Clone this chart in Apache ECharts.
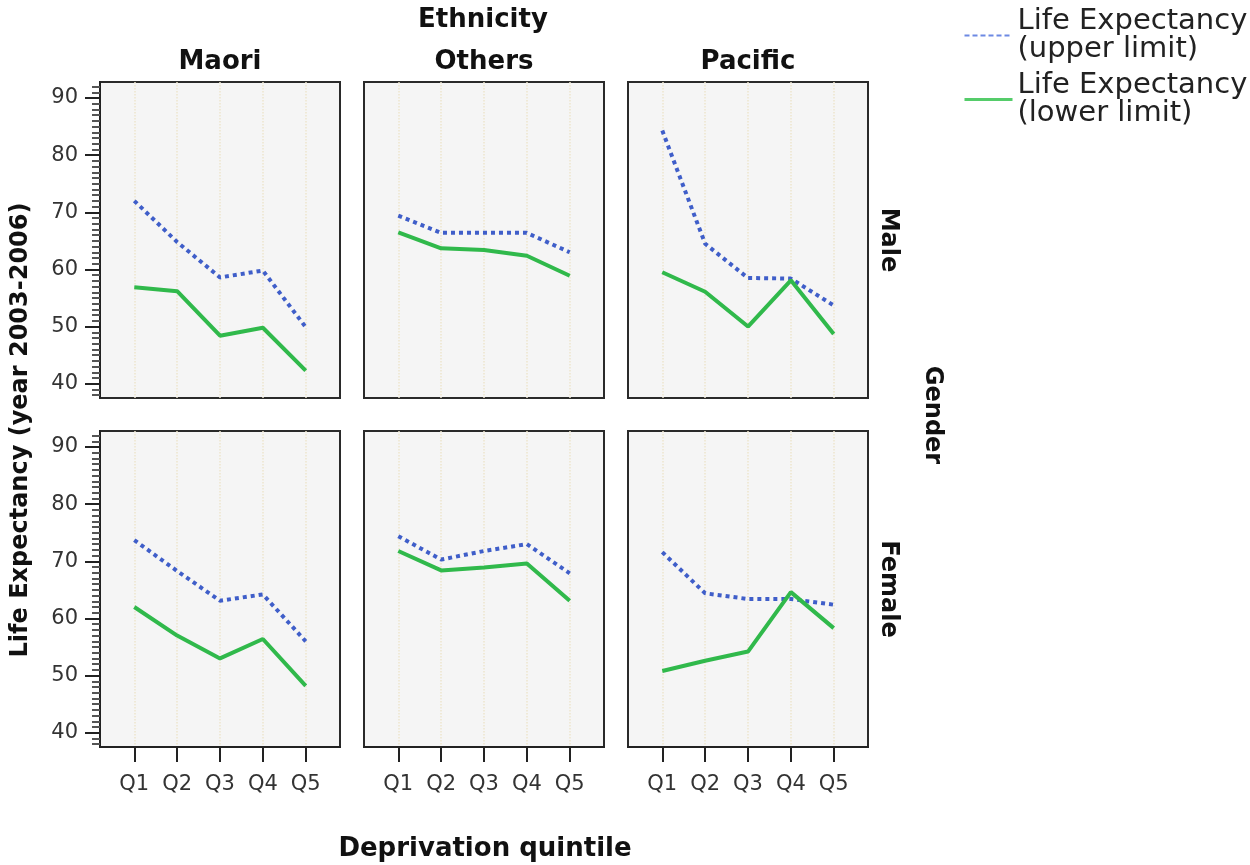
<!DOCTYPE html>
<html>
<head>
<meta charset="utf-8">
<script src="https://cdn.jsdelivr.net/npm/echarts@6/dist/echarts.min.js"></script>
<style>
  html, body { margin: 0; padding: 0; background: #fff; }
  #chart { width: 1250px; height: 865px; }
</style>
</head>
<body>
<div id="chart"></div>
<script>
// categories
var quintiles = ['Q1', 'Q2', 'Q3', 'Q4', 'Q5'];
var quintilePos = [1, 2, 3, 4, 5];
var ethnicities = ['Maori', 'Others', 'Pacific'];
var genders = ['Male', 'Female'];
var yTickValues = [40, 50, 60, 70, 80, 90];

// life expectancy, upper / lower limit, by quintile
var maoriMaleUpper = [72.0, 64.8, 58.6, 59.8, 49.9];
var maoriMaleLower = [56.9, 56.2, 48.4, 49.8, 42.3];
var othersMaleUpper = [69.4, 66.4, 66.4, 66.4, 63.0];
var othersMaleLower = [66.5, 63.7, 63.4, 62.4, 58.9];
var pacificMaleUpper = [84.3, 64.5, 58.5, 58.4, 53.7];
var pacificMaleLower = [59.5, 56.1, 50.0, 58.1, 48.7];
var maoriFemaleUpper = [73.7, 68.3, 63.1, 64.2, 56.0];
var maoriFemaleLower = [62.0, 57.0, 53.0, 56.4, 48.2];
var othersFemaleUpper = [74.4, 70.3, 71.8, 73.0, 67.9];
var othersFemaleLower = [71.8, 68.4, 68.9, 69.6, 63.1];
var pacificFemaleUpper = [71.6, 64.4, 63.4, 63.4, 62.4];
var pacificFemaleLower = [50.8, 52.6, 54.2, 64.6, 58.3];

var upperName = 'Life Expectancy (upper limit)';
var lowerName = 'Life Expectancy (lower limit)';

// panels: [row][col] -> [upper, lower]
var panels = [
    [[maoriMaleUpper, maoriMaleLower], [othersMaleUpper, othersMaleLower], [pacificMaleUpper, pacificMaleLower]],
    [[maoriFemaleUpper, maoriFemaleLower], [othersFemaleUpper, othersFemaleLower], [pacificFemaleUpper, pacificFemaleLower]]
];

var colLeft = [100, 364, 628];
var rowTop = [82, 431];
var panelW = 240, panelH = 316;
var font = 'DejaVu Sans';

function toPoints(arr) {
    return arr.map(function (v, i) { return [quintilePos[i], v]; });
}

var grid = [], xAxis = [], yAxis = [], series = [];
for (var r = 0; r < 2; r++) {
    for (var c = 0; c < 3; c++) {
        var g = grid.length;
        grid.push({
            left: colLeft[c], top: rowTop[r], width: panelW, height: panelH,
            show: true, backgroundColor: '#f5f5f5',
            borderColor: '#2a2a2a', borderWidth: 2
        });
        xAxis.push({
            gridIndex: g, type: 'value', min: 0.2, max: 5.8,
            position: r === 0 ? 'top' : 'bottom',
            name: r === 0 ? ethnicities[c] : '',
            nameLocation: 'middle', nameGap: 7,
            nameTextStyle: { fontFamily: font, fontWeight: 'bold', fontSize: 26, color: '#111' },
            axisLine: { show: r === 1, lineStyle: { color: '#222', width: 2 } },
            axisTick: { show: r === 1, length: 15, customValues: quintilePos, lineStyle: { color: '#222', width: 2 } },
            axisLabel: {
                show: r === 1, customValues: quintilePos, margin: 27,
                fontFamily: font, fontSize: 21, color: '#333',
                formatter: function (v) { return quintiles[v - 1]; }
            },
            splitLine: { show: true, lineStyle: { color: '#ede5cd', type: 'dotted', width: 1.5 } }
        });
        yAxis.push({
            gridIndex: g, type: 'value', min: 37.5, max: 92.8,
            position: c === 2 ? 'right' : 'left',
            name: c === 2 ? genders[r] : '',
            nameLocation: 'middle', nameRotate: -90, nameGap: 8,
            nameTextStyle: { fontFamily: font, fontWeight: 'bold', fontSize: 24, color: '#111' },
            axisLine: { show: c === 0, lineStyle: { color: '#222', width: 2 } },
            axisTick: { show: c === 0, length: 15, customValues: yTickValues, lineStyle: { color: '#222', width: 2 } },
            minorTick: { show: c === 0, splitNumber: 10, length: 8, lineStyle: { color: '#555', width: 2 } },
            axisLabel: { show: c === 0, customValues: yTickValues, margin: 22, fontFamily: font, fontSize: 21, color: '#333' },
            splitLine: { show: false }
        });
        series.push({
            name: upperName, type: 'line', xAxisIndex: g, yAxisIndex: g,
            data: toPoints(panels[r][c][0]), symbol: 'none',
            lineStyle: { color: '#3f5ec9', width: 4, type: [4, 4] },
            itemStyle: { color: '#3f5ec9' }
        });
        series.push({
            name: lowerName, type: 'line', xAxisIndex: g, yAxisIndex: g,
            data: toPoints(panels[r][c][1]), symbol: 'none',
            lineStyle: { color: '#30b94b', width: 4 },
            itemStyle: { color: '#30b94b' }
        });
    }
}

var myChart = echarts.init(document.getElementById('chart'));
myChart.setOption({
    animation: false,
    backgroundColor: '#fff',
    grid: grid,
    xAxis: xAxis,
    yAxis: yAxis,
    series: series,
    legend: {
        orient: 'vertical', left: 958, top: 2,
        itemWidth: 48, itemHeight: 14, itemGap: 7,
        data: [
            { name: upperName, itemStyle: { opacity: 0 }, lineStyle: { color: '#6d89e3', width: 2, type: [5, 3] } },
            { name: lowerName, itemStyle: { opacity: 0 }, lineStyle: { color: '#55cc6a', width: 3 } }
        ],
        formatter: function (n) { return n.replace(' (', '\n('); },
        textStyle: { fontFamily: font, fontSize: 29, lineHeight: 28, color: '#222' }
    },
    graphic: [
        { type: 'text', x: 483, y: 20, style: { text: 'Ethnicity', font: 'bold 26px "DejaVu Sans"', fill: '#111', align: 'center', verticalAlign: 'middle' } },
        { type: 'text', x: 485, y: 849, style: { text: 'Deprivation quintile', font: 'bold 26px "DejaVu Sans"', fill: '#111', align: 'center', verticalAlign: 'middle' } },
        { type: 'text', x: 21, y: 430, rotation: Math.PI / 2, style: { text: 'Life Expectancy (year 2003-2006)', font: 'bold 24px "DejaVu Sans"', fill: '#111', align: 'center', verticalAlign: 'middle' } },
        { type: 'text', x: 932, y: 415, rotation: -Math.PI / 2, style: { text: 'Gender', font: 'bold 24px "DejaVu Sans"', fill: '#111', align: 'center', verticalAlign: 'middle' } }
    ]
});
</script>
</body>
</html>
